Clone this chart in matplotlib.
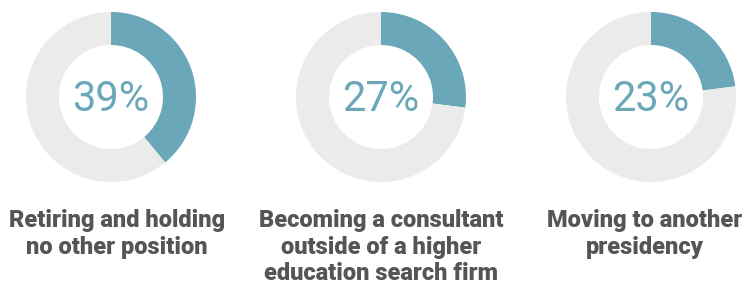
import matplotlib.pyplot as plt

# data
shares = [39, 27, 23]
labels = ['Retiring and holding\nno other position',
          'Becoming a consultant\noutside of a higher\neducation search firm',
          'Moving to another\npresidency']

teal = '#6aa7b8'
grey = '#ebebeb'
txt = '#555555'

W, H = 745, 284
fig = plt.figure(figsize=(W / 100, H / 100), dpi=100)
ax = fig.add_axes([0, 0, 1, 1])

centers_x = [111, 381, 651]
label_x = [117, 381, 645]
cy = H - 97
R = 85
ring = 33

for i, val in enumerate(shares):
    ax.pie([val, 100 - val], colors=[teal, grey], startangle=90,
           counterclock=False, radius=R, center=(centers_x[i], cy),
           wedgeprops=dict(width=ring, edgecolor='none'), frame=True)
    ax.text(centers_x[i], H - 111, '%d%%' % val, ha='center', va='baseline',
            fontsize=30, color=teal, family='Roboto')
    ax.text(label_x[i], H - 209, labels[i], ha='center', va='top',
            fontsize=17, color=txt, family='Roboto', fontweight=900,
            linespacing=1.2)

ax.set_xlim(0, W)
ax.set_ylim(0, H)
ax.set_aspect('equal')
ax.axis('off')

fig.savefig('out.png', dpi=100)
